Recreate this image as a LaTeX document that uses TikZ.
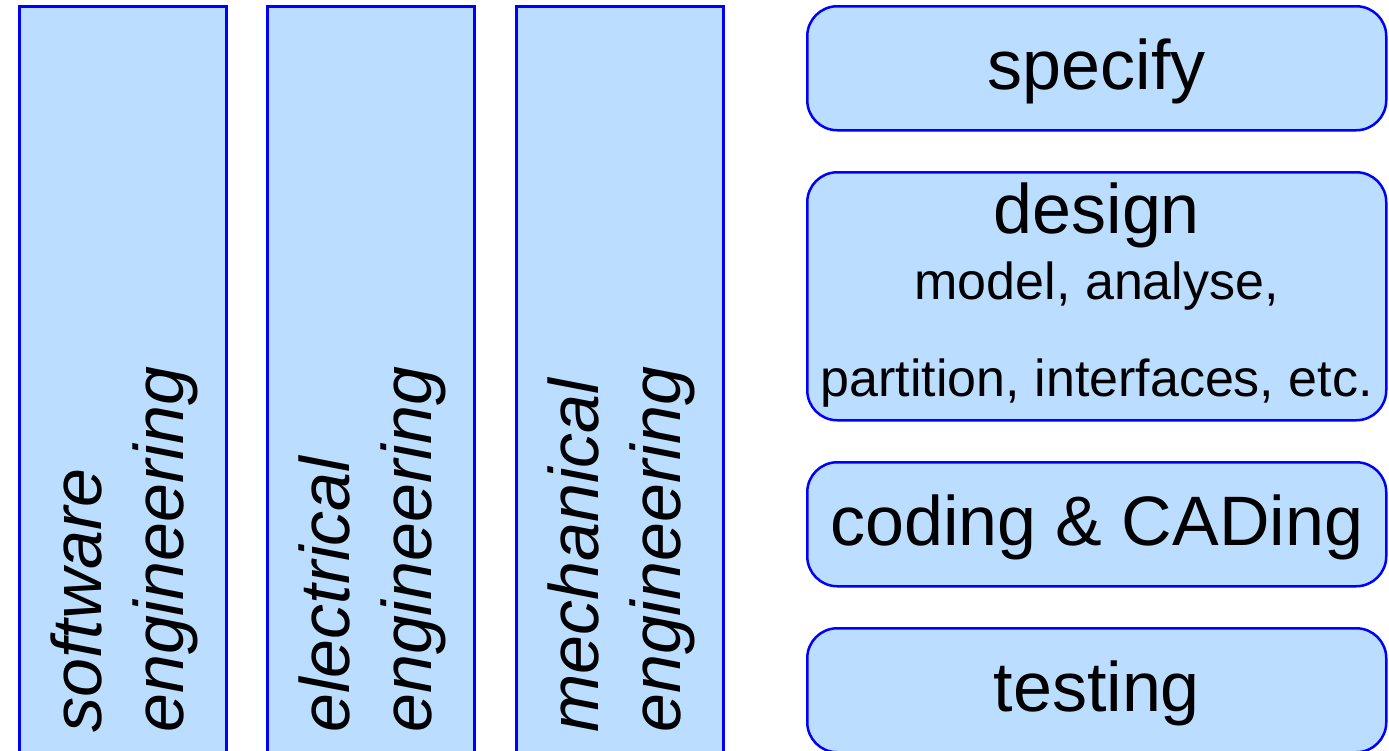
\documentclass[tikz,border=0pt]{standalone}
\usepackage{fontspec}
\setmainfont{Liberation Sans}
\usetikzlibrary{positioning}
\definecolor{boxfill}{RGB}{187,221,255}

\begin{document}
\begin{tikzpicture}[x=1pt,y=-1pt,
  colbox/.style={draw=blue,line width=2.5pt,fill=boxfill,inner sep=0pt,
    minimum width=207pt,minimum height=770pt,anchor=north west},
  stepbox/.style={draw=blue,line width=2.5pt,fill=boxfill,inner sep=0pt,
    rounded corners=30pt,minimum width=579pt,minimum height=124pt,anchor=north west},
  coltxt/.style={font=\fontsize{70}{82}\selectfont\itshape,inner sep=0pt,
    align=left,anchor=base west,rotate=90},
  bigtxt/.style={font=\fontsize{70}{80}\selectfont,inner sep=0pt,anchor=base},
  smalltxt/.style={font=\fontsize{52}{60}\selectfont,inner sep=0pt,anchor=base}]

\useasboundingbox (0,0) rectangle (1389,750);
\clip (0,0) rectangle (1389,750);

%Engineering columns
\node[colbox] (sw) at (18,5) {};
\node[colbox] (el) at (266,5) {};
\node[colbox] (me) at (515,5) {};

%base of the label = baseline of its last line
\node[coltxt] (swlbl) at (183,733) {software\\engineering};
\node[coltxt] (ellbl) at (431,733) {electrical\\engineering};
\node[coltxt] (melbl) at (680,733) {mechanical\\engineering};

%Process steps
\node[stepbox] (spec) at (806,5) {};
\node[stepbox,minimum height=248pt] (design) at (806,171) {};
\node[stepbox] (code) at (806,461) {};
\node[stepbox] (test) at (806,627) {};

\node[bigtxt] (speclbl) at ([yshift=-21pt]spec.center) {specify};
\node[bigtxt] (designlbl) at ([yshift=63pt]design.center) {design};
\node[smalltxt] (modellbl) at ([yshift=-3pt]design.center) {model, analyse,};
\node[smalltxt] (partlbl) at ([yshift=-100pt]design.center) {partition, interfaces, etc.};
\node[bigtxt] (codelbl) at ([yshift=-21pt]code.center) {coding \& CADing};
\node[bigtxt] (testlbl) at ([yshift=-21pt]test.center) {testing};
\end{tikzpicture}
\end{document}
